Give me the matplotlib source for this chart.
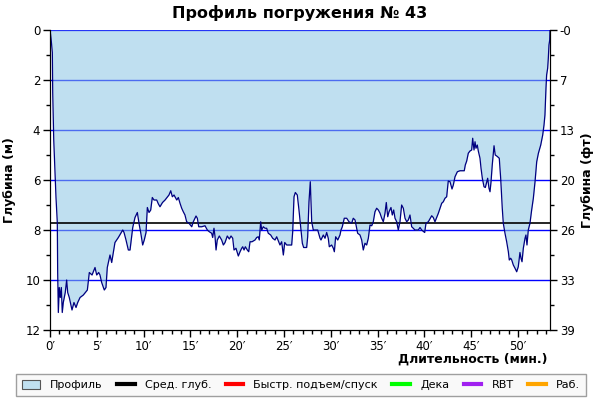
import matplotlib
matplotlib.use('Agg')
import matplotlib.pyplot as plt
from matplotlib.patches import Patch
from matplotlib.lines import Line2D
from matplotlib.ticker import MultipleLocator

# Профиль погружения: время (мин) и глубина (м)
minutes = [
    0.00, 0.11, 0.25, 0.29, 0.40, 0.53, 0.64, 0.78, 0.82, 0.89, 0.99, 1.10,
    1.21, 1.31, 1.42, 1.63, 1.78, 1.89, 2.06, 2.24, 2.35, 2.56, 2.78, 2.96,
    3.21, 3.56, 3.99, 4.20, 4.49, 4.81, 4.99, 5.20, 5.34, 5.52, 5.80, 5.98,
    6.12, 6.41, 6.59, 6.94, 7.30, 7.77, 7.91, 8.12, 8.37, 8.55, 8.84, 9.08,
    9.33, 9.54, 9.69, 9.90, 10.07, 10.26, 10.40, 10.58, 10.76, 10.93, 11.11,
    11.40, 11.57, 11.75, 12.02, 12.29, 12.71, 12.90, 13.07, 13.25, 13.54,
    13.71, 13.89, 14.07, 14.24, 14.42, 14.60, 14.85, 15.14, 15.31, 15.60,
    15.74, 15.89, 16.21, 16.56, 16.81, 17.02, 17.27, 17.38, 17.52, 17.63,
    17.74, 17.87, 18.09, 18.34, 18.52, 18.70, 18.94, 19.16, 19.34, 19.52,
    19.66, 19.87, 20.12, 20.30, 20.48, 20.59, 20.73, 20.87, 21.08, 21.23,
    21.37, 21.58, 21.90, 22.08, 22.25, 22.36, 22.51, 22.62, 22.79, 22.97,
    23.15, 23.32, 23.58, 23.79, 24.04, 24.22, 24.39, 24.57, 24.75, 24.93,
    25.08, 25.29, 25.57, 25.82, 25.93, 26.07, 26.21, 26.42, 26.60, 26.82,
    26.96, 27.10, 27.42, 27.53, 27.67, 27.78, 27.81, 27.89, 27.96, 28.13,
    28.60, 28.85, 28.95, 29.20, 29.38, 29.56, 29.73, 29.84, 30.09, 30.27,
    30.38, 30.52, 30.74, 30.98, 31.09, 31.23, 31.44, 31.70, 31.94, 32.23,
    32.40, 32.59, 32.77, 32.87, 33.12, 33.30, 33.47, 33.65, 33.83, 34.01,
    34.19, 34.37, 34.54, 34.72, 34.90, 35.08, 35.26, 35.44, 35.61, 35.79,
    35.93, 36.08, 36.22, 36.43, 36.57, 36.72, 36.86, 37.04, 37.21, 37.39,
    37.57, 37.75, 37.93, 38.11, 38.28, 38.46, 38.64, 38.81, 38.99, 39.35,
    39.53, 39.71, 40.03, 40.17, 40.42, 40.60, 40.78, 40.95, 41.13, 41.31,
    41.49, 41.67, 41.85, 42.02, 42.20, 42.38, 42.55, 42.74, 42.95, 43.09,
    43.27, 43.52, 43.80, 44.26, 44.37, 44.52, 44.69, 44.87, 45.05, 45.16,
    45.30, 45.41, 45.51, 45.65, 45.76, 45.94, 46.05, 46.19, 46.37, 46.51,
    46.66, 46.76, 46.90, 47.01, 47.12, 47.25, 47.44, 47.57, 47.76, 48.00,
    48.15, 48.32, 48.43, 48.61, 48.79, 48.97, 49.07, 49.22, 49.33, 49.50,
    49.68, 49.86, 50.03, 50.21, 50.32, 50.43, 50.57, 50.75, 50.85, 50.96,
    51.10, 51.28, 51.46, 51.64, 51.82, 52.00, 52.18, 52.28, 52.43, 52.64,
    52.78, 52.88, 52.99, 53.06, 53.17, 53.24, 53.31, 53.39, 53.42,
]
depth_m = [
    0.0, 0.33, 0.9, 2.5, 4.4, 5.6, 6.7, 7.7, 9.7, 11.3, 10.3, 10.7,
    10.3, 11.3, 10.9, 10.5, 10.0, 10.5, 10.7, 11.0, 11.2, 10.9, 11.1, 10.9,
    10.7, 10.6, 10.4, 9.7, 9.8, 9.5, 9.8, 9.7, 9.8, 10.1, 10.4, 10.3,
    9.5, 9.0, 9.3, 8.5, 8.3, 8.0, 8.1, 8.4, 8.8, 8.8, 7.9, 7.5,
    7.3, 7.8, 8.1, 8.6, 8.4, 8.1, 7.1, 7.3, 7.2, 6.7, 6.8,
    6.8, 6.95, 7.07, 6.9, 6.8, 6.6, 6.43, 6.67, 6.6, 6.8,
    6.7, 6.93, 7.13, 7.27, 7.4, 7.67, 7.73, 7.87, 7.67, 7.44,
    7.53, 7.87, 7.87, 7.83, 8.0, 8.07, 8.13, 8.3, 7.93, 8.26,
    8.8, 8.4, 8.24, 8.4, 8.6, 8.5, 8.24, 8.36, 8.24, 8.33,
    8.8, 8.73, 9.04, 8.87, 8.73, 8.67, 8.8, 8.67, 8.8, 8.87,
    8.47, 8.47, 8.4, 8.3, 8.27, 8.4, 7.67, 8.0, 7.87, 7.93,
    7.93, 8.13, 8.2, 8.33, 8.4, 8.27, 8.43, 8.6, 8.47, 9.0,
    8.5, 8.6, 8.6, 8.6, 8.07, 6.67, 6.5, 6.6, 7.2, 8.0,
    8.53, 8.7, 8.7, 8.27, 6.87, 6.27, 6.07, 6.93, 7.67, 8.0,
    8.0, 8.33, 8.4, 8.2, 8.33, 8.1, 8.33, 8.67, 8.6, 8.73,
    8.87, 8.27, 8.4, 8.2, 8.0, 7.87, 7.53, 7.53, 7.67, 7.73,
    7.53, 7.6, 7.93, 8.13, 8.2, 8.4, 8.8, 8.53, 8.6, 8.33,
    7.8, 7.83, 7.67, 7.27, 7.13, 7.2, 7.33, 7.53, 7.67, 7.33,
    6.9, 7.47, 7.27, 7.1, 7.4, 7.2, 7.53, 7.67, 8.0, 7.67,
    7.0, 7.13, 7.53, 7.67, 7.6, 7.4, 7.87, 7.93, 8.0, 8.0,
    7.9, 8.0, 8.1, 7.73, 7.67, 7.55, 7.43, 7.5, 7.67, 7.5,
    7.33, 7.13, 6.93, 6.87, 6.73, 6.67, 6.04, 6.07, 6.36, 6.2,
    5.87, 5.67, 5.63, 5.63, 5.4, 5.24, 4.93, 4.84, 4.8, 4.33,
    4.8, 4.47, 4.73, 4.6, 4.84, 5.13, 5.53, 5.93, 6.27, 6.3,
    6.07, 5.93, 6.33, 6.47, 6.07, 5.4, 4.63, 5.0, 5.05, 5.13,
    5.93, 7.13, 7.73, 8.13, 8.47, 8.87, 9.2, 9.13, 9.2, 9.4,
    9.53, 9.67, 9.47, 8.9, 9.13, 9.27, 8.73, 8.33, 8.2, 8.6,
    8.0, 7.73, 7.2, 6.73, 6.07, 5.27, 4.93, 4.8, 4.6, 4.2,
    3.8, 3.4, 2.33, 1.8, 1.53, 1.13, 0.6, 0.4, 0.0,
]
avg_depth = 7.72
dive_end = 53.42

depth_ticks = [0, 2, 4, 6, 8, 10, 12]
feet_labels = ['-0', '7', '13', '20', '26', '33', '39']
minute_ticks = [0, 5, 10, 15, 20, 25, 30, 35, 40, 45, 50]

legend_names = ['Профиль', 'Сред. глуб.', 'Быстр. подъем/спуск', 'Дека', 'RBT', 'Раб.']
legend_colors = ['#c0e0f0', 'black', 'red', '#00ff00', '#a020f0', 'orange']

fig = plt.figure(figsize=(6, 4), dpi=100)
ax = fig.add_axes([50 / 600, 70 / 400, 500 / 600, 300 / 400])

# сетка под заливкой (заливка полупрозрачная)
for d in depth_ticks[:-1]:
    ax.axhline(d, color='#0000ff', lw=1, zorder=1)
ax.fill_between(minutes, 0, depth_m, color='#8cc6e4', alpha=0.55, lw=0, zorder=2)
ax.axhline(avg_depth, color='black', lw=1.2, zorder=3)
ax.plot(minutes, depth_m, color='#000080', lw=0.9, zorder=4)

ax.set_xlim(0, dive_end)
ax.set_ylim(12, 0)
ax.spines['top'].set_visible(False)

ax.set_yticks(depth_ticks)
ax.yaxis.set_minor_locator(MultipleLocator(1))
ax.set_xticks(minute_ticks)
ax.set_xticklabels([f'{m}\u2032' for m in minute_ticks])
ax.xaxis.set_minor_locator(MultipleLocator(1))
ax.tick_params(axis='both', which='major', labelsize=8.5, length=5, width=1,
               direction='out', pad=2)
ax.tick_params(axis='both', which='minor', length=3, width=1, direction='out')

ax2 = ax.twinx()
ax2.set_ylim(12, 0)
ax2.set_yticks(depth_ticks)
ax2.set_yticklabels(feet_labels)
ax2.yaxis.set_minor_locator(MultipleLocator(1))
ax2.spines['top'].set_visible(False)
ax2.tick_params(which='major', labelsize=8.5, length=5, width=1, pad=2)
ax2.tick_params(which='minor', length=3, width=1)

fig.text(0.5, 1 - 13 / 400, 'Профиль погружения № 43', ha='center', va='center',
         fontsize=11.5, fontweight='bold')
fig.text(10 / 600, 0.5 + 20 / 400, 'Глубина (м)', rotation=90, ha='center', va='center',
         fontsize=9, fontweight='bold')
fig.text(587 / 600, 0.5 + 20 / 400, 'Глубина (фт)', rotation=90, ha='center', va='center',
         fontsize=9, fontweight='bold')
fig.text(548 / 600, 1 - 359 / 400, 'Длительность (мин.)', ha='right', va='center',
         fontsize=9, fontweight='bold')

handles = [Patch(facecolor=legend_colors[0], edgecolor='#555555', lw=0.8)]
handles += [Line2D([], [], color=c, lw=3) for c in legend_colors[1:]]
leg = fig.legend(handles, legend_names, loc='center', bbox_to_anchor=(301 / 600, 1 - 385 / 400),
                 ncol=6, fontsize=8, frameon=True, fancybox=False,
                 handlelength=1.6, handleheight=0.9, handletextpad=0.9, columnspacing=1.3,
                 borderpad=0.55)
leg.get_frame().set_edgecolor('#888888')
leg.get_frame().set_facecolor('#f8f8f8')
leg.get_frame().set_linewidth(1)

fig.savefig('out.png', dpi=100)
